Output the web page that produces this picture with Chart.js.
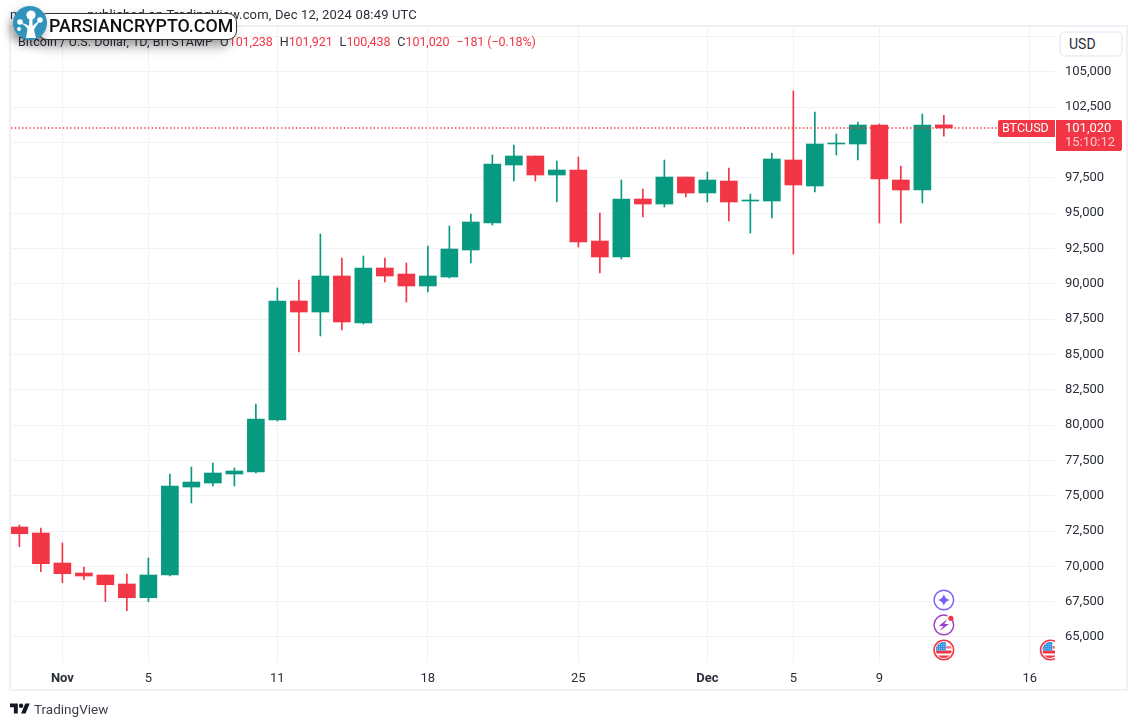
<!DOCTYPE html>
<html>
<head>
<meta charset="utf-8">
<title>BTCUSD</title>
<script src="https://cdn.jsdelivr.net/npm/chart.js@4/dist/chart.umd.min.js"></script>
<style>
  html, body { margin: 0; padding: 0; background: #fff; }
  body { width: 1137px; height: 726px; position: relative; overflow: hidden; font-family: Roboto, sans-serif; color: #2a2e39; }
  #frame { position: absolute; left: 9px; top: 25px; width: 1115px; height: 662px; border: 2px solid #f0f1f6; }
  #btc { position: absolute; left: 0; top: 0; }
  .txt { position: absolute; white-space: nowrap; }
  #publishedStart { left: 10px; top: 7px; font-size: 13px; line-height: 16px; }
  #published { right: 720px; top: 7px; font-size: 13px; line-height: 16px; letter-spacing: .17px; }
  #legend { left: 18px; top: 34px; font-size: 12.5px; line-height: 16px; letter-spacing: .08px; }
  #legend b { font-weight: 400; color: #f23645; letter-spacing: -.1px; }
  #legend i { font-style: normal; margin-left: 7px; }
  #usd { position: absolute; left: 1059px; top: 31px; width: 60px; height: 22px; border: 2px solid #f0f1f6; border-radius: 6px; font-size: 14px; line-height: 22px; text-indent: 8px; background: #fff; }
  #brand { position: absolute; left: 38px; top: 13px; width: 197px; height: 25px; background: #fff; border: 1px solid #333; border-radius: 9px; box-shadow: -6px 6px 12px rgba(0,0,0,.4); }
  #brandText { left: 49px; top: 14px; font-size: 17.8px; line-height: 24px; font-weight: 500; color: #111; }
  #brandMark { position: absolute; left: 12px; top: 5px; filter: drop-shadow(-3px 5px 5px rgba(0,0,0,.4)); }
  #tvMark { position: absolute; left: 10px; top: 701px; }
  #tvText { left: 34px; top: 701px; font-size: 13.5px; line-height: 16px; color: #3b3f4a; }
</style>
</head>
<body>
<div id="frame"></div>
<canvas id="btc" width="1137" height="726"></canvas>
<div class="txt" id="publishedStart">m</div>
<div class="txt" id="published">published on TradingView.com, Dec 12, 2024 08:49 UTC</div>
<div class="txt" id="legend">Bitcoin / U.S. Dollar, 1D, BITSTAMP<i>O</i><b>101,238</b><i>H</i><b>101,921</b><i>L</i><b>100,438</b><i>C</i><b>101,020</b><i></i><b>−181 (−0.18%)</b></div>
<div id="usd">USD</div>
<div id="brand"></div>
<div class="txt" id="brandText">PARSIANCRYPTO.COM</div>
<svg id="brandMark" width="36" height="36" viewBox="0 0 36 36">
  <circle cx="18" cy="18" r="17" fill="#2f93bc"/>
  <g fill="#fff">
    <circle cx="19" cy="10" r="4.6"/>
    <circle cx="8" cy="17" r="2.8"/>
    <circle cx="28" cy="15" r="2.8"/>
    <circle cx="7" cy="24" r="2"/>
    <path d="M14 33 L15.5 24 C14 21 11 19 8 18 C12 18 15 19.5 17 21 L17.5 12 L20.5 12 L20.5 21 C22.5 19 25 17 28 15.5 C26 19 23 22 22 25 L24 33 Z"/>
  </g>
</svg>
<svg id="tvMark" width="20" height="16" viewBox="0 0 36 28"><g fill="#131722"><path d="M14 22H7V11H0V4h14v18zM28 22h-8l7.5-18h8L28 22z"/><circle cx="20" cy="8" r="4"/></g></svg>
<div class="txt" id="tvText">TradingView</div>
<script>
// daily candles, Oct 30 -> Dec 12 2024 (index 0 = Oct 30)
const opens  = [72783,72358,70235,69528,69387,68750,67780,69387,75612,75895,76532,76674,80354,88775,87996,90544,87218,91110,90685,89836,90473,92384,94294,98398,99035,97690,98044,93020,91888,95992,95638,97549,96417,97266,95850,95850,98752,96912,99884,99884,101229,97337,96629,101238];
const highs  = [72924,72712,71650,69952,69387,69457,70589,76532,77028,77310,76957,81486,89695,90261,93515,91817,91959,91817,91464,92667,94082,94931,99106,99813,99035,98681,98964,95001,97337,96700,98752,97549,97903,98186,96346,99247,103634,102148,100592,101441,101299,98327,102007,101921];
const lows   = [71388,69619,68842,69054,67497,66860,67497,69316,74481,75683,75683,76603,80283,85166,86298,86722,87147,90119,88704,89412,90402,91464,94153,97266,97266,95780,92596,90756,91747,94719,95426,96133,95780,94435,93586,94648,92101,96487,99106,98752,94294,94294,95709,100438];
const closes = [72309,70186,69479,69316,68700,67780,69387,75683,75966,76603,76745,80425,88775,87996,90544,87289,91110,90544,89836,90544,92454,94365,98469,99035,97690,98044,92950,91888,95992,95638,97549,96417,97337,95780,95921,98823,96983,99884,99955,101229,97407,96629,101229,101020];

const dayTicks  = [2, 6, 12, 19, 26, 32, 36, 40, 47];
const dayLabels = ["Nov", "5", "11", "18", "25", "Dec", "5", "9", "16"];
const boldDays  = ["Nov", "Dec"];
const priceTicks = [65000,67500,70000,72500,75000,77500,80000,82500,85000,87500,90000,92500,95000,97500,100000,102500,105000,107500];
const hiddenPrices = [107500];

const lastPrice = 101020;
const countdown = "15:10:12";
const starEvents = [43];
const boltEvents = [43];
const flagEvents = [43, 48];

const GREEN = "#089981";
const RED = "#f23645";
const FONT = "Roboto, sans-serif";

const days = opens.map((o, i) => i);
const colors = opens.map((o, i) => closes[i] >= o ? GREEN : RED);
const xMin = -0.39, xMax = 48.17;

function ring(ctx, x, y, r, color, width) {
  ctx.beginPath();
  ctx.arc(x, y, r, 0, Math.PI * 2);
  ctx.fillStyle = "#fff";
  ctx.fill();
  ctx.lineWidth = width;
  ctx.strokeStyle = color;
  ctx.stroke();
}

function drawStar(ctx, x, y) {
  const c = "#7c5cfc";
  ring(ctx, x, y, 9.8, c, 1.4);
  ctx.beginPath();
  ctx.moveTo(x, y - 6);
  ctx.quadraticCurveTo(x + 1, y - 1, x + 6, y);
  ctx.quadraticCurveTo(x + 1, y + 1, x, y + 6);
  ctx.quadraticCurveTo(x - 1, y + 1, x - 6, y);
  ctx.quadraticCurveTo(x - 1, y - 1, x, y - 6);
  ctx.fillStyle = c;
  ctx.fill();
}

function drawBolt(ctx, x, y) {
  const c = "#9c3fc7";
  ctx.beginPath();
  ctx.arc(x, y, 9.8, -0.25 * Math.PI, 1.62 * Math.PI);
  ctx.lineWidth = 1.4;
  ctx.strokeStyle = c;
  ctx.stroke();
  ctx.beginPath();
  ctx.moveTo(x + 3.5, y - 6);
  ctx.lineTo(x - 5, y + 1);
  ctx.lineTo(x - 0.5, y + 1);
  ctx.lineTo(x - 4, y + 6);
  ctx.lineTo(x + 5, y - 1);
  ctx.lineTo(x + 0.5, y - 1);
  ctx.closePath();
  ctx.fillStyle = c;
  ctx.fill();
  ctx.beginPath();
  ctx.arc(x + 7, y - 6.7, 2.6, 0, Math.PI * 2);
  ctx.fillStyle = RED;
  ctx.fill();
}

function drawFlag(ctx, x, y) {
  ring(ctx, x, y, 9.8, RED, 1.6);
  ctx.save();
  ctx.beginPath();
  ctx.arc(x, y, 8, 0, Math.PI * 2);
  ctx.clip();
  ctx.fillStyle = "#f77c80";
  ctx.fillRect(x - 8, y - 4, 16, 2.6);
  ctx.fillStyle = RED;
  ctx.fillRect(x - 8, y + 0.5, 16, 3);
  ctx.fillRect(x - 8, y + 5.5, 16, 3);
  ctx.fillStyle = "#2f8fe0";
  ctx.fillRect(x - 8, y - 8, 10, 8.5);
  ctx.fillStyle = "#cfe6fb";
  for (let a = -7; a < 2; a += 2.2) {
    for (let b = -6; b < 0; b += 2.2) ctx.fillRect(x + a, y + b, 0.9, 0.9);
  }
  ctx.restore();
}

// events row + last price tags
const overlayPlugin = {
  id: "overlay",
  afterDraw(chart) {
    const { ctx, chartArea, scales } = chart;
    const bottom = chartArea.bottom;

    ctx.save();
    ctx.beginPath();
    ctx.rect(chartArea.left, chartArea.top, chartArea.right - chartArea.left, bottom - chartArea.top);
    ctx.clip();
    starEvents.forEach(d => drawStar(ctx, scales.x.getPixelForValue(d), bottom - 63));
    boltEvents.forEach(d => drawBolt(ctx, scales.x.getPixelForValue(d), bottom - 38));
    flagEvents.forEach(d => drawFlag(ctx, scales.x.getPixelForValue(d) - (d > 43 ? 1 : 0), bottom - 13));
    ctx.restore();

    const y = Math.round(scales.y.getPixelForValue(lastPrice));
    ctx.save();
    ctx.fillStyle = RED;
    ctx.beginPath();
    ctx.roundRect(chartArea.right - 57, y - 8, 57, 17, [2, 0, 0, 2]);
    ctx.fill();
    ctx.beginPath();
    ctx.roundRect(chartArea.right + 1, y - 8, 66, 31, [0, 2, 2, 0]);
    ctx.fill();
    ctx.textBaseline = "middle";
    ctx.font = "12.5px " + FONT;
    ctx.fillStyle = "#fff";
    ctx.fillText("BTCUSD", chartArea.right - 53, y + 1);
    ctx.font = "13px " + FONT;
    ctx.fillText(lastPrice.toLocaleString("en-US"), chartArea.right + 10, y + 1);
    ctx.fillStyle = "rgba(255,255,255,.72)";
    ctx.fillText(countdown, chartArea.right + 10, y + 15);
    ctx.restore();
  }
};

new Chart(document.getElementById("btc").getContext("2d"), {
  type: "bar",
  plugins: [overlayPlugin],
  data: {
    datasets: [
      {
        type: "line",
        order: 0,
        data: [{ x: xMin, y: lastPrice }, { x: xMax, y: lastPrice }],
        borderColor: RED,
        borderWidth: 1.4,
        borderDash: [1.4, 2.3],
        pointRadius: 0
      },
      {
        order: 1,
        grouped: false,
        barThickness: 17,
        data: days.map(d => ({ x: d, y: [opens[d], closes[d]] })),
        backgroundColor: colors,
        borderWidth: 0
      },
      {
        order: 2,
        grouped: false,
        barThickness: 1,
        data: days.map(d => ({ x: d, y: [lows[d], highs[d]] })),
        backgroundColor: colors,
        borderWidth: 0
      }
    ]
  },
  options: {
    responsive: false,
    animation: false,
    events: [],
    layout: { padding: { left: 11, top: 27, right: 0, bottom: 0 } },
    plugins: { legend: { display: false }, tooltip: { enabled: false } },
    scales: {
      x: {
        type: "linear",
        offset: false,
        min: xMin,
        max: xMax,
        afterBuildTicks(axis) { axis.ticks = dayTicks.map(v => ({ value: v })); },
        afterFit(axis) { axis.height = 63; },
        border: { display: false },
        grid: { color: "#f1f2f4", drawTicks: false, offset: false },
        ticks: {
          autoSkip: false,
          maxRotation: 0,
          padding: 8,
          color: "#2a2e39",
          font: ctx => ({
            family: FONT,
            size: 13,
            weight: boldDays.includes(dayLabels[ctx.index]) ? "bold" : "normal"
          }),
          callback: (v, i) => dayLabels[i]
        }
      },
      y: {
        position: "right",
        min: 63160,
        max: 108163,
        afterBuildTicks(axis) { axis.ticks = priceTicks.map(v => ({ value: v })); },
        afterFit(axis) { axis.width = 82; },
        border: { display: false },
        grid: { color: "#f1f2f4", drawTicks: false },
        ticks: {
          autoSkip: false,
          padding: 10,
          color: "#2a2e39",
          font: { family: FONT, size: 13 },
          callback: v => hiddenPrices.includes(v) ? "" : v.toLocaleString("en-US")
        }
      }
    }
  }
});
</script>
</body>
</html>
